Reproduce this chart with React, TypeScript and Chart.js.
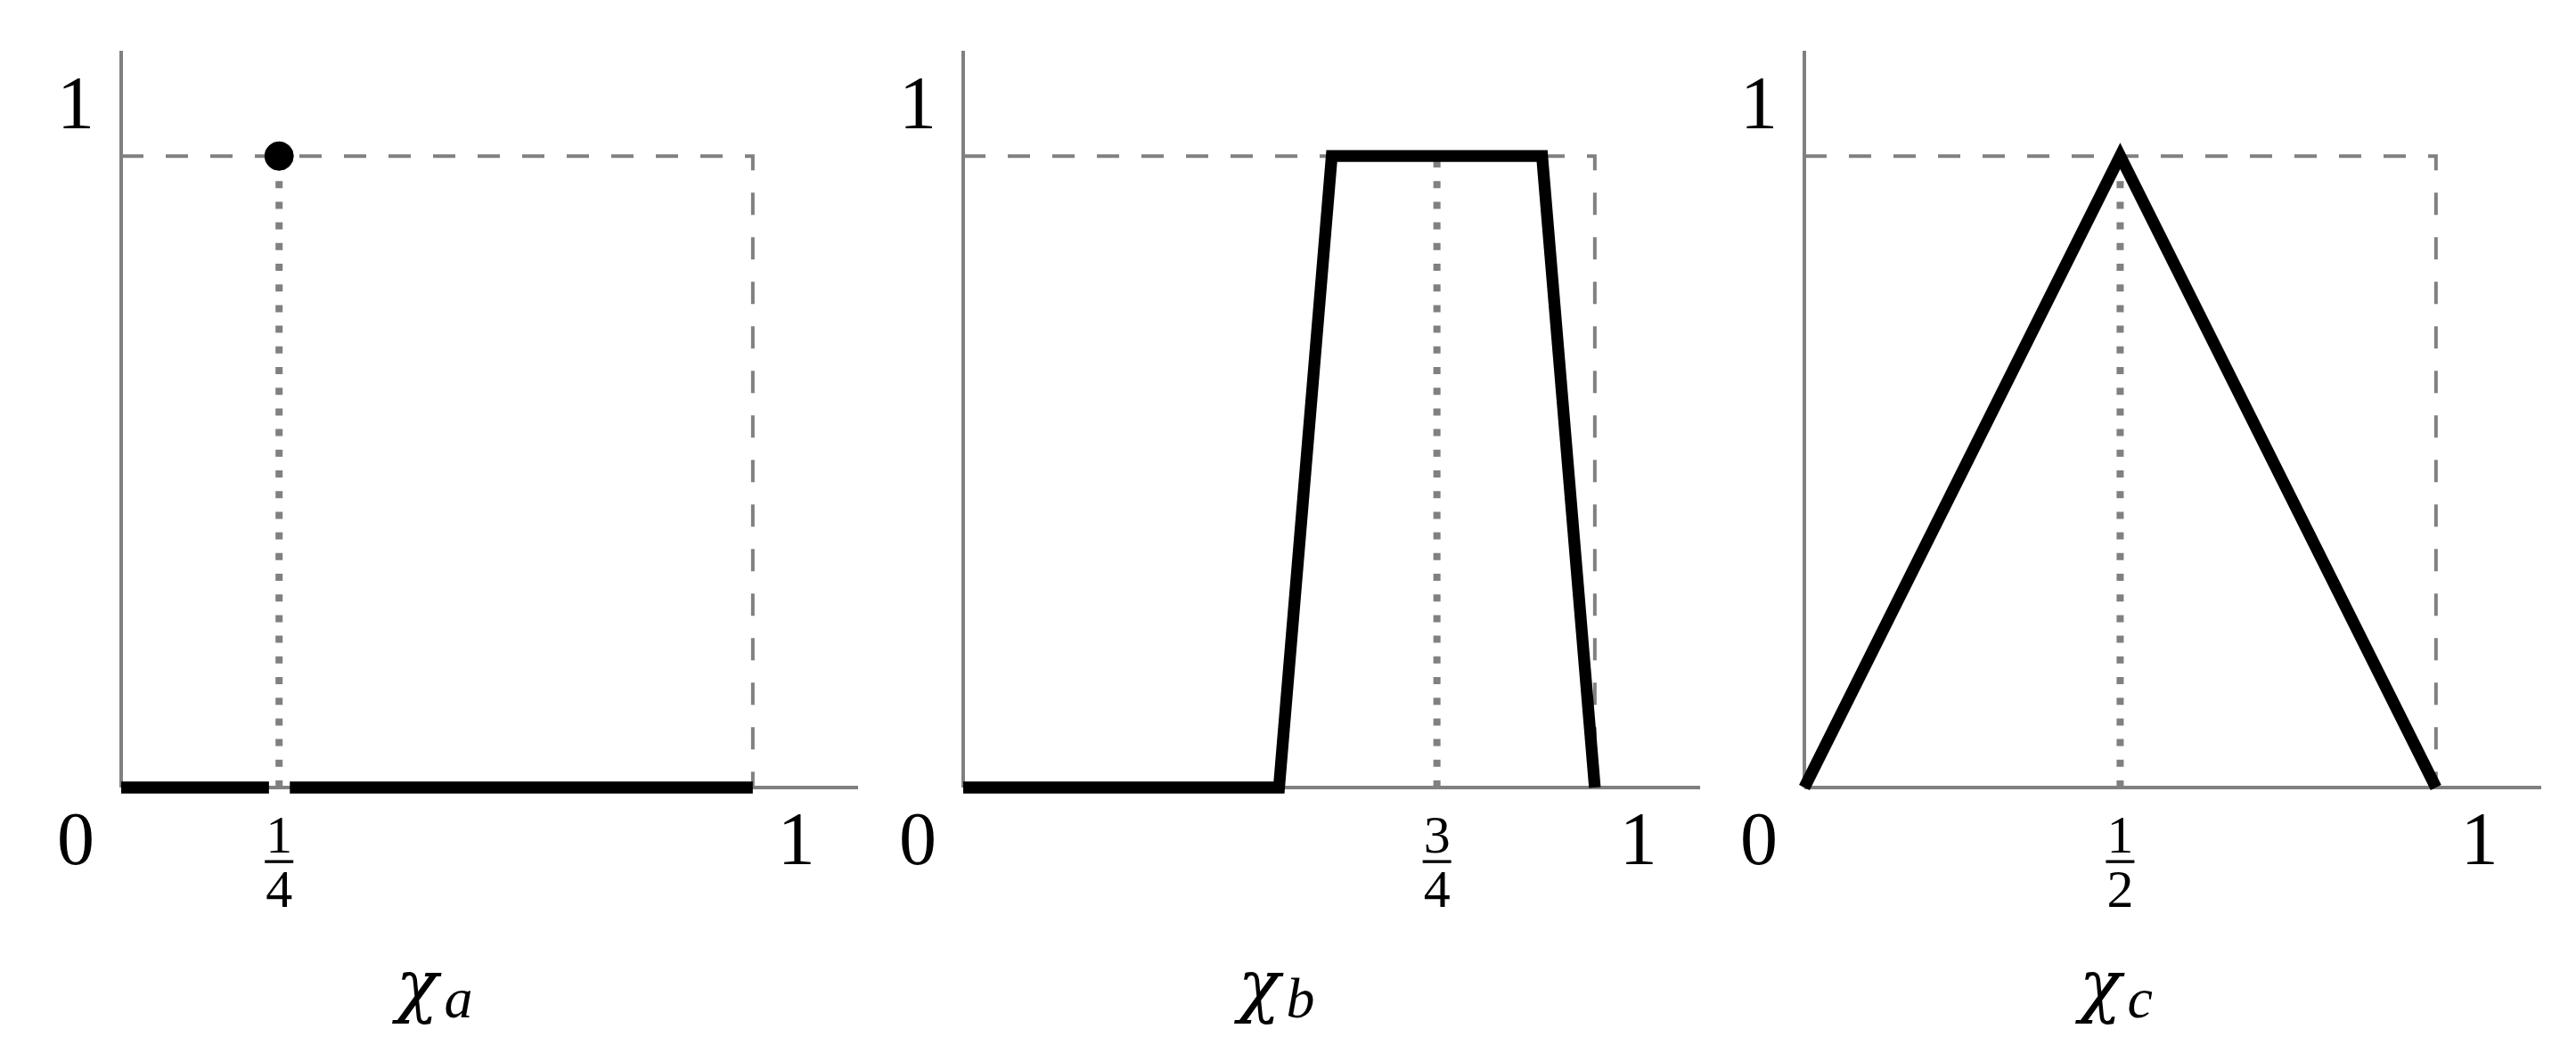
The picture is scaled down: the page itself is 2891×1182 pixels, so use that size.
import React, { useEffect, useRef } from "react";
import { Chart, registerables } from "chart.js";

Chart.register(...registerables);

// ---------- data ----------
const AXIS_MAX = 7 / 6; // axes run a little beyond 1
const PANEL_NAMES = ["a", "b", "c"];

// membership functions (x, y) for each panel; panel a is split in two pieces around 1/4
const CURVE_A_LEFT = [
  { x: 0, y: 0 },
  { x: 0.234, y: 0 },
];
const CURVE_A_RIGHT = [
  { x: 0.267, y: 0 },
  { x: 1, y: 0 },
];
const CURVE_B = [
  { x: 0, y: 0 },
  { x: 0.5, y: 0 },
  { x: 0.5835, y: 1 },
  { x: 0.9165, y: 1 },
  { x: 1, y: 0 },
];
const CURVE_C = [
  { x: 0, y: 0 },
  { x: 0.5, y: 1 },
  { x: 1, y: 0 },
];
const POINT_A = [{ x: 0.25, y: 1 }];

// dotted guide positions
const GUIDE_X = [0.25, 0.75, 0.5];
// unit-square dashed frame
const FRAME = [
  { x: 0, y: 1 },
  { x: 1, y: 1 },
  { x: 1, y: 0 },
];

// tick labels
const END_LABELS = ["0", "1"];
const Y_LABEL = "1";
const FRACTION_NUM = ["1", "3", "1"];
const FRACTION_DEN = ["4", "4", "2"];

// ---------- style ----------
const GRAY = "rgb(128,128,128)";
const BLACK = "#000";
const FONT = '"Liberation Serif", "DejaVu Serif", serif';
const CHI_FONT = '"DejaVu Serif", "Liberation Serif", serif';
const CANVAS_W = 1000;
const CANVAS_H = 1182;
const PANEL_LEFTS = [0, 945, 1889];

function line(data: any[], color: string, width: number, order: number, dash: number[] = []) {
  return {
    data,
    showLine: true,
    borderColor: color,
    backgroundColor: color,
    borderWidth: width,
    borderDash: dash,
    pointRadius: 0,
    pointHoverRadius: 0,
    order,
    clip: false,
  };
}

function Panel({ index }: { index: number }) {
  const ref = useRef<HTMLCanvasElement | null>(null);

  useEffect(() => {
    if (!ref.current) return;
    const name = PANEL_NAMES[index];
    const gx = GUIDE_X[index];
    const datasets: any[] = [
      line([{ x: 0, y: 0 }, { x: 0, y: AXIS_MAX }], GRAY, 4, 5),
      line([{ x: 0, y: 0 }, { x: AXIS_MAX, y: 0 }], GRAY, 4, 5),
      line(FRAME, GRAY, 4, 4, [25, 25]),
      line([{ x: gx, y: 0 }, { x: gx, y: 1 }], GRAY, 8, 3, [8, 15.2]),
    ];
    if (index === 0) {
      datasets.push(line(CURVE_A_LEFT, BLACK, 13.3, 1));
      datasets.push(line(CURVE_A_RIGHT, BLACK, 13.3, 1));
      datasets.push({
        data: POINT_A,
        showLine: false,
        pointRadius: 16,
        pointHoverRadius: 16,
        pointBackgroundColor: BLACK,
        pointBorderColor: BLACK,
        pointBorderWidth: 1,
        order: 0,
        clip: false,
      });
    } else if (index === 1) {
      datasets.push(line(CURVE_B, BLACK, 13.3, 1));
    } else {
      datasets.push(line(CURVE_C, BLACK, 13.3, 1));
    }

    const labelPlugin = {
      id: "labels" + index,
      afterDraw(chart: any) {
        const ctx = chart.ctx as CanvasRenderingContext2D;
        const xs = chart.scales.x;
        const ys = chart.scales.y;
        const x0 = xs.getPixelForValue(0);
        const x1 = xs.getPixelForValue(1);
        const y0 = ys.getPixelForValue(0);
        const y1 = ys.getPixelForValue(1);
        const xg = xs.getPixelForValue(gx);
        const xm = xs.getPixelForValue(0.5);
        ctx.save();
        ctx.fillStyle = BLACK;
        ctx.textAlign = "center";
        ctx.textBaseline = "alphabetic";
        ctx.font = `84px ${FONT}`;
        ctx.fillText(END_LABELS[0], x0 - 51, y0 + 86);
        ctx.fillText(END_LABELS[1], x1 + 49, y0 + 86);
        ctx.fillText(Y_LABEL, x0 - 51, y1 - 31);
        // fraction tick
        ctx.font = `60px ${FONT}`;
        ctx.fillText(FRACTION_NUM[index], xg, y0 + 73);
        ctx.fillText(FRACTION_DEN[index], xg, y0 + 134);
        ctx.fillRect(xg - 16, y0 + 81.5, 32, 3.3);
        // axis name chi_a
        ctx.textAlign = "left";
        ctx.font = `italic 78px ${CHI_FONT}`;
        ctx.fillText("χ", xm - 46, y0 + 249);
        ctx.font = `italic 64px ${FONT}`;
        ctx.fillText(name, xm + 8, y0 + 258);
        ctx.restore();
      },
    };

    const chart = new Chart(ref.current, {
      type: "scatter",
      data: { datasets },
      options: {
        animation: false,
        responsive: false,
        maintainAspectRatio: false,
        events: [],
        layout: { padding: { left: 136, right: 37, top: 57, bottom: 298 } },
        scales: {
          x: { type: "linear", display: false, min: 0, max: AXIS_MAX },
          y: { type: "linear", display: false, min: 0, max: AXIS_MAX },
        },
        plugins: {
          legend: { display: false },
          tooltip: { enabled: false },
        },
      } as any,
      plugins: [labelPlugin],
    });
    return () => chart.destroy();
  }, [index]);

  return (
    <canvas
      ref={ref}
      width={CANVAS_W}
      height={CANVAS_H}
      style={{
        position: "absolute",
        left: PANEL_LEFTS[index],
        top: 0,
        width: CANVAS_W,
        height: CANVAS_H,
      }}
    />
  );
}

export default function App() {
  return (
    <div
      style={{
        position: "absolute",
        left: 0,
        top: 0,
        width: 2891,
        height: 1182,
        overflow: "hidden",
        background: "#fff",
      }}
    >
      {PANEL_NAMES.map((_, i) => (
        <Panel key={i} index={i} />
      ))}
    </div>
  );
}
